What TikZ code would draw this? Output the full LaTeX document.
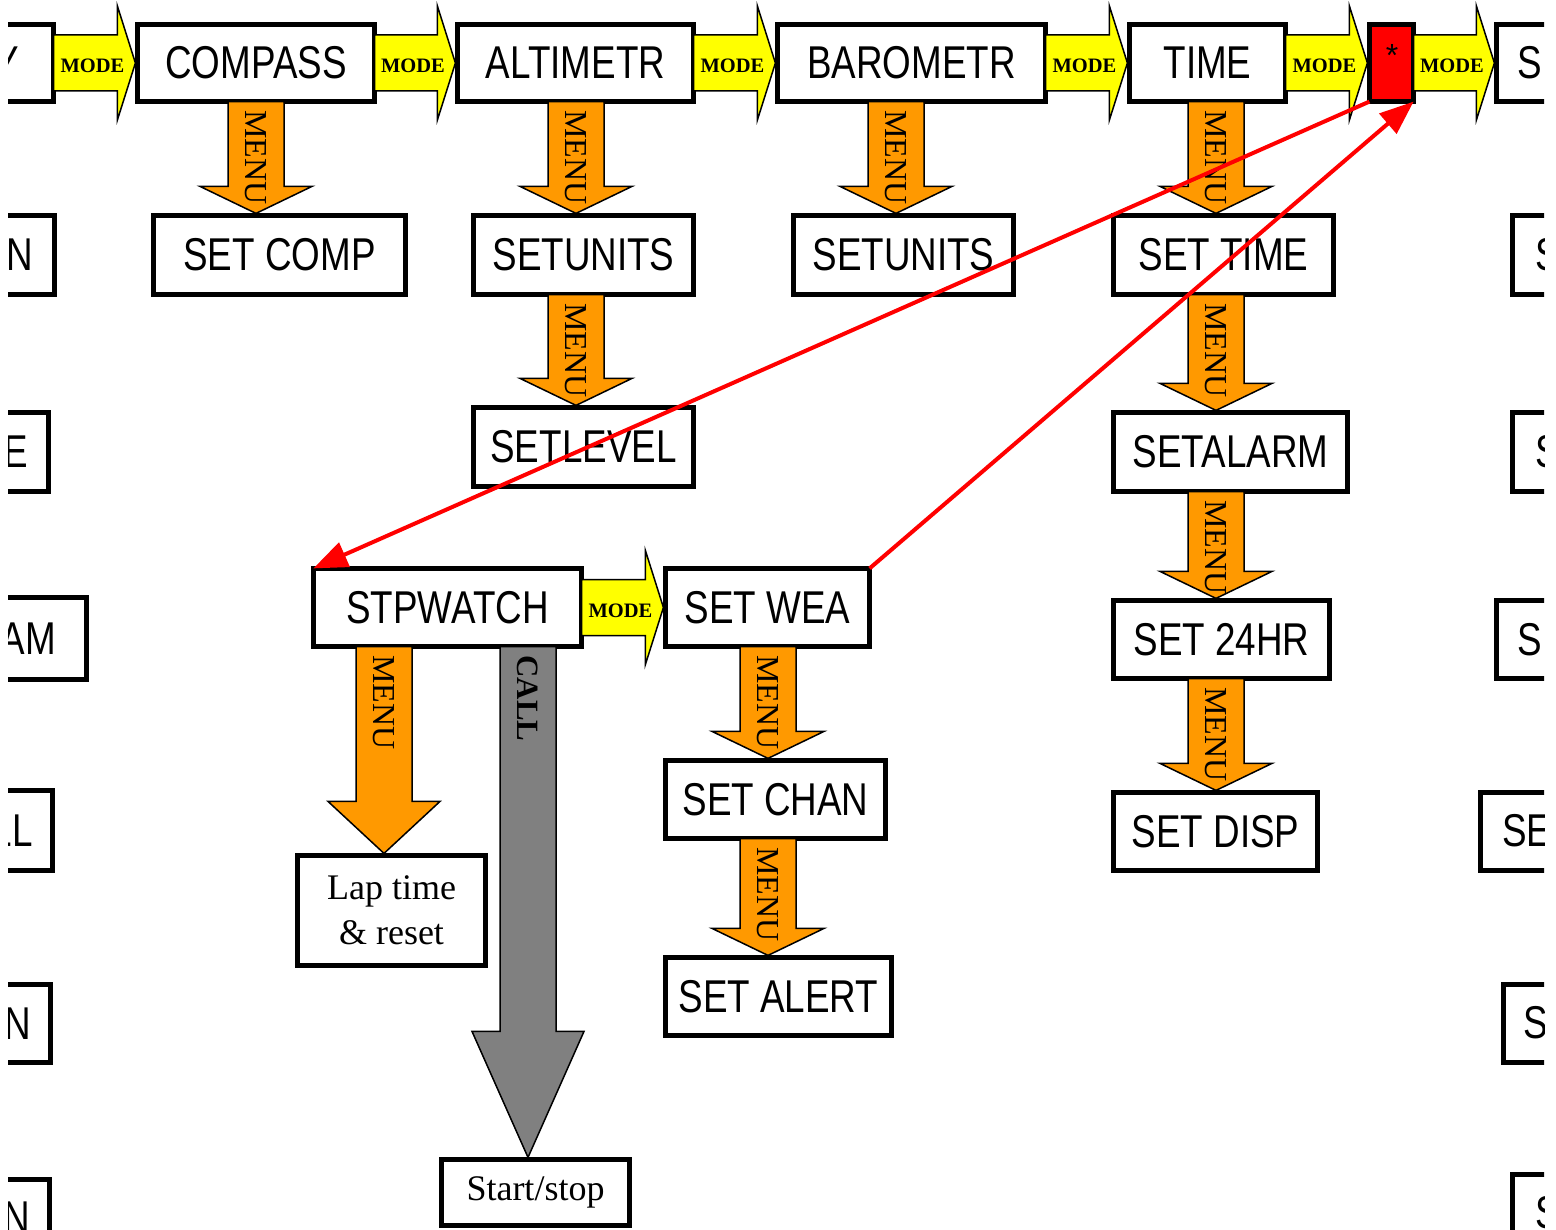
\documentclass[tikz,border=0pt]{standalone}
\usepackage{fontspec}
\usetikzlibrary{arrows.meta,calc}
\newfontfamily\boxfont[FakeStretch=0.8]{Liberation Sans}
\newfontfamily\plainsans{Liberation Sans}
\newfontfamily\tnr{Liberation Serif}
\definecolor{modeyellow}{HTML}{FFFF00}
\definecolor{menuorange}{HTML}{FF9900}
\definecolor{callgray}{HTML}{808080}
\tikzset{
 box/.style={draw, line width=4.8pt, fill=white, inner sep=0pt, outer sep=0pt,
   font=\boxfont\fontsize{46}{46}\selectfont},
 frag/.style={inner sep=0pt, font=\boxfont\fontsize{46}{46}\selectfont},
 modearr/.style={fill=modeyellow, draw=black, line width=1.5pt},
 menuarr/.style={fill=menuorange, draw=black, line width=1.5pt},
 callarr/.style={fill=callgray, draw=black, line width=1.5pt},
 modelbl/.style={inner sep=0pt, font=\tnr\bfseries\fontsize{20.5}{20.5}\selectfont},
 menulbl/.style={inner sep=0pt, rotate=-90, anchor=west, font=\tnr\fontsize{32}{32}\selectfont},
 calllbl/.style={inner sep=0pt, rotate=-90, anchor=west, font=\tnr\bfseries\fontsize{31}{31}\selectfont},
 redline/.style={draw=red, line width=4pt, -{Triangle[length=34pt,width=26pt]}},
}
% box from outer pixel edges: name, left, top, right, bottom, text
\newcommand\bx[7][]{\node[box,#1,minimum width={#5-#3-4.8},minimum height={#6-#4-4.8}] (#2) at ({(#3+#5)/2},{(#4+#6)/2}) {#7};}
% horizontal yellow block arrow between two boxes
\newcommand\modearrow[2]{%
 \path[modearr] let \p1=(#1.east), \p2=(#2.west) in
  (\x1,{\y1+28pt}) -- ({\x2-20pt},{\y1+28pt}) -- ({\x2-20pt},{\y1+57pt}) -- ({\x2-2pt},\y1)
  -- ({\x2-20pt},{\y1-57pt}) -- ({\x2-20pt},{\y1-28pt}) -- (\x1,{\y1-28pt}) -- cycle
  ({(\x1+\x2)/2-3pt},{\y1-3pt}) node[modelbl] {MODE};}
% vertical block arrow: [style] x, from, to, head length, label node
\newcommand\menuarrow[6][menuarr]{%
 \path[#1] let \p1=(#3.south), \p2=(#4.north) in
  ({#2pt-28pt},\y1) -- ({#2pt+28pt},\y1) -- ({#2pt+28pt},{\y2+2pt+#5pt}) -- ({#2pt+56pt},{\y2+2pt+#5pt})
  -- (#2pt,{\y2+2pt}) -- ({#2pt-56pt},{\y2+2pt+#5pt}) -- ({#2pt-28pt},{\y2+2pt+#5pt}) -- cycle
  (#2pt,{\y1-8pt}) #6;}
\begin{document}
\begin{tikzpicture}[x=1pt,y=-1pt]
\useasboundingbox (0,0) rectangle (1556,1230);
\clip (8,-20) rectangle (1544,1230);
% ---- left partial boxes
\bx{lY}{-200}{22}{56}{104}{}
\node[frag,anchor=east] (lYt) at (19,63) {Y};
\bx{lN1}{-200}{213}{57}{297}{}
\node[frag,anchor=east] (lN1t) at (33,255) {N};
\bx{lE}{-200}{410}{51}{494}{}
\node[frag,anchor=east] (lEt) at (28,452) {E};
\bx{lAM}{-200}{595}{89}{682}{}
\node[frag,anchor=east] (lAMt) at (56,638.5) {AM};
\bx{lLL}{-200}{788}{55}{873}{}
\node[frag,anchor=east] (lLLt) at (33,830.5) {LL};
\bx{lN2}{-200}{982}{53}{1065}{}
\node[frag,anchor=east] (lN2t) at (31,1023.5) {N};
\bx{lN3}{-200}{1177}{52}{1320}{}
\node[frag,anchor=east] (lN3t) at (30,1218) {N};
% ---- right partial boxes
\bx{rS1}{1494}{22}{1800}{104}{}
\node[frag,anchor=west] (rS1t) at (1517,63) {S};
\bx{rS2}{1510}{213}{1800}{297}{}
\node[frag,anchor=west] (rS2t) at (1535,255) {S};
\bx{rS3}{1510}{410}{1800}{494}{}
\node[frag,anchor=west] (rS3t) at (1535,452) {S};
\bx{rS4}{1494}{598}{1800}{681}{}
\node[frag,anchor=west] (rS4t) at (1517,640) {S};
\bx{rSE}{1478}{790}{1800}{873}{}
\node[frag,anchor=west] (rSEt) at (1502,831) {SE};
\bx{rS6}{1501}{982}{1800}{1065}{}
\node[frag,anchor=west] (rS6t) at (1523,1023) {S};
\bx{rS7}{1510}{1172}{1800}{1320}{}
\node[frag,anchor=west] (rS7t) at (1535,1213) {S};
% ---- main boxes
\bx{compass}{135}{22}{377}{104}{COMPASS}
\bx{altim}{455}{22}{696}{104}{ALTIMETR}
\bx{baro}{775}{22}{1048}{104}{BAROMETR}
\bx{time}{1127}{22}{1288}{104}{TIME}
\bx[fill=red]{star}{1367}{22}{1416}{104}{}
\node[inner sep=0pt,font=\plainsans\fontsize{32}{32}\selectfont] (starlbl) at (1392,55) {*};
\bx{setcomp}{151}{213}{408}{297}{SET COMP}
\bx{setunitsA}{471}{213}{696}{297}{SETUNITS}
\bx{setunitsB}{791}{213}{1016}{297}{SETUNITS}
\bx{settime}{1111}{213}{1336}{297}{SET TIME}
\bx{setlevel}{471}{405}{696}{489}{SETLEVEL}
\bx{setalarm}{1111}{410}{1350}{494}{SETALARM}
\bx{stpwatch}{311}{566}{584}{649}{STPWATCH}
\bx{setwea}{663}{566}{872}{649}{SET WEA}
\bx{set24}{1111}{598}{1332}{681}{SET 24HR}
\bx{setchan}{663}{758}{888}{841}{SET CHAN}
\bx{setdisp}{1111}{790}{1320}{873}{SET DISP}
\bx[font=\tnr\fontsize{36}{45}\selectfont,align=center]{lap}{295}{853}{488}{968}{Lap time\\\& reset}
\bx{setalert}{663}{955}{894}{1038}{SET ALERT}
\bx[font=\tnr\fontsize{36}{36}\selectfont]{startstop}{439}{1157}{632}{1228}{Start/stop}
% ---- MODE arrows
\modearrow{lY}{compass}
\modearrow{compass}{altim}
\modearrow{altim}{baro}
\modearrow{baro}{time}
\modearrow{time}{star}
\modearrow{star}{rS1}
\modearrow{stpwatch}{setwea}
% ---- MENU arrows
\menuarrow{256}{compass}{setcomp}{27}{node[menulbl]{MENU}}
\menuarrow{576}{altim}{setunitsA}{27}{node[menulbl]{MENU}}
\menuarrow{576}{setunitsA}{setlevel}{27}{node[menulbl]{MENU}}
\menuarrow{896}{baro}{setunitsB}{27}{node[menulbl]{MENU}}
\menuarrow{1216}{time}{settime}{27}{node[menulbl]{MENU}}
\menuarrow{1216}{settime}{setalarm}{27}{node[menulbl]{MENU}}
\menuarrow{1216}{setalarm}{set24}{27}{node[menulbl]{MENU}}
\menuarrow{1216}{set24}{setdisp}{27}{node[menulbl]{MENU}}
\menuarrow{768}{setwea}{setchan}{27}{node[menulbl]{MENU}}
\menuarrow{768}{setchan}{setalert}{27}{node[menulbl]{MENU}}
\menuarrow{384}{stpwatch}{lap}{52}{node[menulbl]{MENU}}
\menuarrow[callarr]{528}{stpwatch}{startstop}{126}{node[calllbl]{CALL}}
% ---- red links
\draw[redline] (star.south west) -- (stpwatch.north west);
\draw[redline] (setwea.north east) -- (star.south east);
\end{tikzpicture}
\end{document}
